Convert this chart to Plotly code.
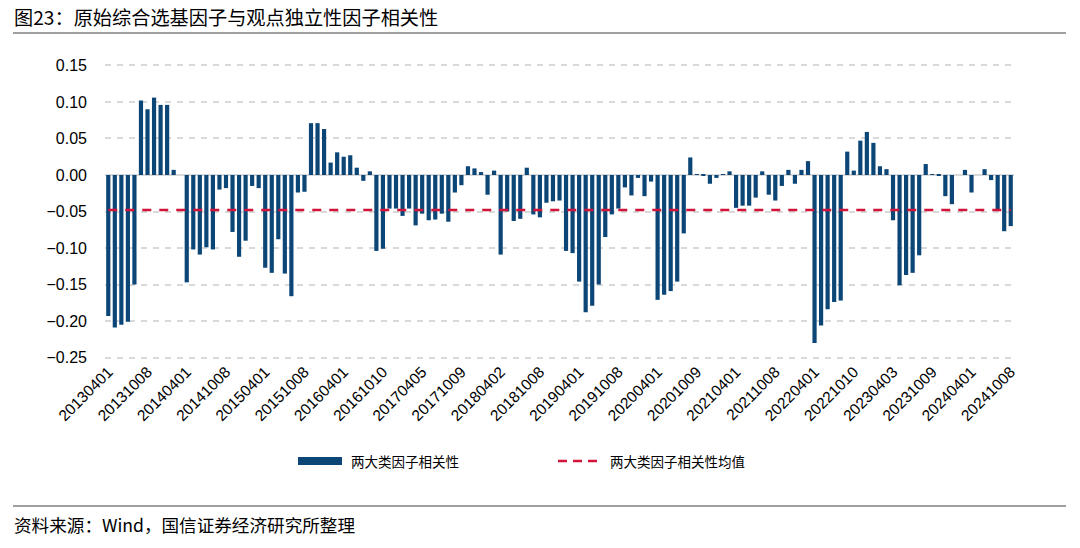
import plotly.graph_objects as go
import pandas as pd

# ---------------- data ----------------
months = [p.strftime("%Y-%m") for p in pd.period_range("2013-04", "2024-10", freq="M")]

corr_values = [
    -0.193, -0.209, -0.205, -0.201, -0.150, 0.102, 0.090, 0.106, 0.096, 0.096,
    0.007, 0.000, -0.147, -0.102, -0.109, -0.099, -0.102, -0.020, -0.018, -0.078,
    -0.112, -0.090, -0.015, -0.018, -0.127, -0.134, -0.088, -0.135, -0.166, -0.024,
    -0.023, 0.071, 0.071, 0.063, 0.017, 0.031, 0.025, 0.027, 0.010, -0.008,
    0.005, -0.104, -0.101, -0.046, -0.046, -0.056, -0.046, -0.069, -0.053, -0.062,
    -0.061, -0.053, -0.064, -0.024, -0.014, 0.012, 0.009, 0.004, -0.027, 0.006,
    -0.109, -0.050, -0.063, -0.060, 0.010, -0.054, -0.058, -0.038, -0.036, -0.035,
    -0.104, -0.107, -0.146, -0.188, -0.179, -0.150, -0.085, -0.054, -0.046, -0.017,
    -0.028, -0.004, -0.029, -0.009, -0.171, -0.164, -0.159, -0.146, -0.080, 0.024,
    0.001, -0.001, -0.012, -0.004, 0.001, 0.005, -0.045, -0.042, -0.042, -0.031,
    0.005, -0.027, -0.035, -0.015, 0.007, -0.012, 0.007, 0.019, -0.230, -0.206,
    -0.184, -0.174, -0.172, 0.032, 0.006, 0.047, 0.059, 0.044, 0.012, 0.008,
    -0.062, -0.151, -0.137, -0.134, -0.110, 0.015, 0.001, -0.001, -0.029, -0.040,
    0.000, 0.007, -0.024, 0.000, 0.008, -0.007, -0.047, -0.077, -0.070,
]

mean_value = -0.048

tick_labels = [
    "20130401", "20131008", "20140401", "20141008", "20150401", "20151008",
    "20160401", "20161010", "20170405", "20171009", "20180402", "20181008",
    "20190401", "20191008", "20200401", "20201009", "20210401", "20211008",
    "20220401", "20221010", "20230403", "20231009", "20240401", "20241008",
]

y_ticks = [0.15, 0.10, 0.05, 0.00, -0.05, -0.10, -0.15, -0.20, -0.25]

series_name = "两大类因子相关性"
mean_name = "两大类因子相关性均值"
title_text = "图23：原始综合选基因子与观点独立性因子相关性"
source_text = "资料来源：Wind，国信证券经济研究所整理"

# ---------------- styling ----------------
BAR_COLOR = "#0b4677"
RED = "#d2143a"
W, H = 1080, 548
L, R, T, B = 105, 66, 64, 189
PW, PH = W - L - R, H - T - B


def px_x(px):
    return (px - L) / PW


def px_y(py):
    return (H - B - py) / PH


fig = go.Figure()
fig.add_trace(go.Bar(
    x=months, y=corr_values, name=series_name,
    marker=dict(color=BAR_COLOR, line=dict(width=0)),
    showlegend=False,
))
fig.add_trace(go.Scatter(
    x=months, y=[mean_value] * len(months), name=mean_name, mode="lines",
    line=dict(color=RED, width=2.6, dash="9px,8px"),
    showlegend=False, hoverinfo="skip",
))

fig.update_layout(
    width=W, height=H,
    margin=dict(l=L, r=R, t=T, b=B, pad=0),
    paper_bgcolor="white", plot_bgcolor="white",
    bargap=0.36,
    font=dict(family="Liberation Sans, Arial, sans-serif", color="#000000"),
    xaxis=dict(
        type="category",
        tickmode="array",
        tickvals=months[::6],
        ticktext=tick_labels,
        tickangle=-45,
        tickfont=dict(size=15.5, family="Liberation Sans, Arial, sans-serif", color="#000"),
        showgrid=False, showline=False, ticks="", zeroline=False,
        range=[-0.5, len(months) - 0.5],
    ),
    yaxis=dict(
        range=[-0.252, 0.152],
        tickmode="array", tickvals=y_ticks,
        tickformat=".2f",
        tickfont=dict(size=16, family="Liberation Sans, Arial, sans-serif", color="#000"),
        showgrid=True, gridcolor="#d9d9d9", griddash="6px,6px", gridwidth=1.5,
        zeroline=True, zerolinecolor="#d9d9d9", zerolinewidth=1.5,
        showline=False, ticks="", ticklabelstandoff=17,
    ),
)

# title and separators
fig.add_annotation(
    text=title_text, xref="paper", yref="paper", x=px_x(12), y=px_y(17),
    xanchor="left", yanchor="middle", showarrow=False,
    font=dict(size=19.2, family="Noto Sans CJK SC", color="#000"),
)
fig.add_shape(type="line", xref="paper", yref="paper",
              x0=px_x(13), x1=px_x(1066), y0=px_y(33), y1=px_y(33),
              line=dict(color="#7f7f7f", width=1.3))
fig.add_shape(type="line", xref="paper", yref="paper",
              x0=px_x(13), x1=px_x(1066), y0=px_y(506), y1=px_y(506),
              line=dict(color="#7f7f7f", width=1.3))
fig.add_annotation(
    text=source_text, xref="paper", yref="paper", x=px_x(12), y=px_y(524),
    xanchor="left", yanchor="middle", showarrow=False,
    font=dict(size=17.6, family="Noto Sans CJK SC", color="#000"),
)

# legend (drawn)
fig.add_shape(type="rect", xref="paper", yref="paper",
              x0=px_x(298), x1=px_x(342), y0=px_y(465), y1=px_y(457),
              fillcolor=BAR_COLOR, line=dict(width=0))
fig.add_annotation(
    text=series_name, xref="paper", yref="paper", x=px_x(349), y=px_y(461),
    xanchor="left", yanchor="middle", showarrow=False,
    font=dict(size=13.5, family="Noto Sans CJK SC", color="#000"),
)
fig.add_shape(type="line", xref="paper", yref="paper",
              x0=px_x(558), x1=px_x(598), y0=px_y(461), y1=px_y(461),
              line=dict(color=RED, width=2.6, dash="9px,6px"))
fig.add_annotation(
    text=mean_name, xref="paper", yref="paper", x=px_x(608), y=px_y(461),
    xanchor="left", yanchor="middle", showarrow=False,
    font=dict(size=13.5, family="Noto Sans CJK SC", color="#000"),
)

fig.write_html(
    "out.html",
    config={"displayModeBar": False},
    post_script="document.body.style.margin='0';document.body.style.overflow='hidden';",
)
